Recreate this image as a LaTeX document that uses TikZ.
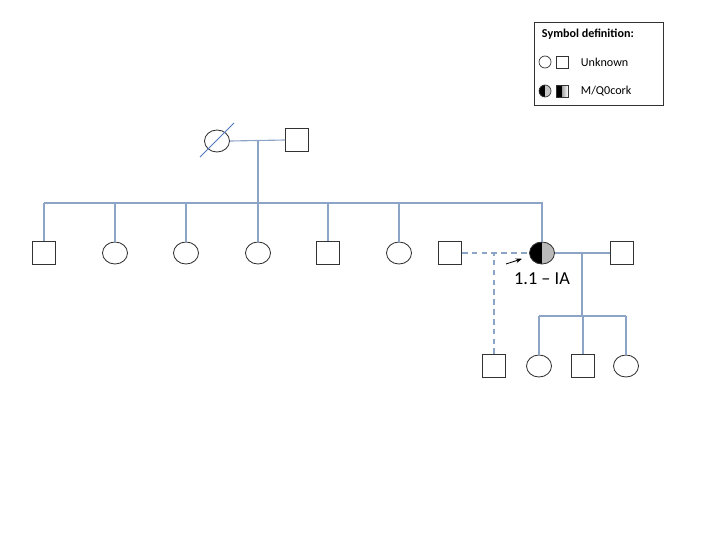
\documentclass[tikz,border=0pt]{standalone}
\usepackage{fontspec}
\setmainfont{Carlito}
\usetikzlibrary{positioning,calc,shapes.geometric,arrows.meta}
\definecolor{linkblue}{RGB}{140,165,198}
\definecolor{slashblue}{RGB}{80,120,190}

\begin{document}
\begin{tikzpicture}[
  x=0.025cm, y=-0.025cm,
  male/.style={
    draw=black!80, rectangle, line width=0.6pt,
    minimum size=0.575cm, inner sep=0pt
  },
  female/.style={
    draw=black!80, ellipse, line width=0.6pt,
    minimum width=0.625cm, minimum height=0.55cm, inner sep=0pt
  },
  halfleft/.style={
    path picture={\fill[black] (path picture bounding box.south west)
      rectangle (path picture bounding box.north);}
  },
  link/.style={draw=linkblue, line width=0.8pt},
  legtext/.style={anchor=west, font=\fontsize{8.6}{10}\selectfont},
  legsym/.style={draw=black!80, line width=0.5pt, minimum size=0.3cm, inner sep=0pt},
  pointer/.style={-{Stealth[length=1.6mm,width=1.2mm]}, line width=0.6pt}
]
\useasboundingbox (0,0) rectangle (720,540);

% --- Legend ---
\node[draw=black!80, line width=0.6pt, minimum width=3.225cm, minimum height=2.075cm] (legend) at (598.5,63.5) {};
\node[legtext, font=\fontsize{8.6}{10}\selectfont\bfseries] (legtitle) at (537,34) {Symbol definition:};
\node[legsym, circle] (legf1) at (545,62) {};
\node[legsym, rectangle] (legm1) at (562,62) {};
\node[legtext] (legunk) at (576,62) {Unknown};
\node[legsym, circle, fill=gray!45, halfleft] (legf2) at (545,91) {};
\node[legsym, rectangle,
  path picture={
    \fill[black] (path picture bounding box.south west) rectangle (path picture bounding box.north);
    \shade[left color=gray!70, right color=white] (path picture bounding box.south) rectangle (path picture bounding box.north east);
  }] (legm2) at (562,91) {};
\node[legtext] (legmq) at (576,91) {M/Q0cork};

% --- Generation I ---
\node[female] (g1f) at (217,141) {};
\node[male] (g1m) at (297,140) {};
\draw[link] (g1f.east) -- (g1m.west);
\draw[draw=slashblue, line width=0.6pt] ([shift={(-17,16)}]g1f.center) -- ([shift={(17,-18)}]g1f.center);
\coordinate (g1mid) at (258,140);
\coordinate (g2bar) at (258,203);
\draw[link] (g1mid) -- (g2bar);

% --- Generation II ---
\foreach \kind/\x [count=\i] in {male/44,female/115,female/186,female/258,male/328,female/399} {
  \node[\kind] (c\i) at (\x,253) {};
  \draw[link] (c\i.north) -- (c\i.north |- g2bar);
}
\node[female, fill=gray!55, halfleft] (pro) at (542,253) {};
\draw[link] (c1.north |- g2bar) -- (pro.north |- g2bar) -- (pro.north);

% proband label
\node[font=\fontsize{13}{15}\selectfont] (prolabel) at (542,279) {1.1 – IA};
\coordinate (arrtail) at (506,264);
\draw[pointer, shorten >=2mm] (arrtail) -- (pro.-165);

% first partner
\node[male] (h1) at (450,253) {};
\draw[link, dash pattern=on 4pt off 3pt] (h1.east) -- (pro.west);
\node[male] (k0) at (494,366) {};
\draw[link, dash pattern=on 4pt off 3pt] (k0.north) -- (k0.north |- pro.west);

% second partner
\node[male] (h2) at (622,253) {};
\draw[link] (pro.east) -- (h2.west);
\coordinate (g2mid) at (582,253);
\coordinate (g3bar) at (582,316);
\draw[link] (g2mid) -- (g3bar);

% --- Generation III ---
\foreach \kind/\x [count=\i] in {female/539,male/583,female/626} {
  \node[\kind] (d\i) at (\x,366) {};
  \draw[link] (d\i.north) -- (d\i.north |- g3bar);
}
\draw[link] (d1.north |- g3bar) -- (d3.north |- g3bar);

\end{tikzpicture}
\end{document}
